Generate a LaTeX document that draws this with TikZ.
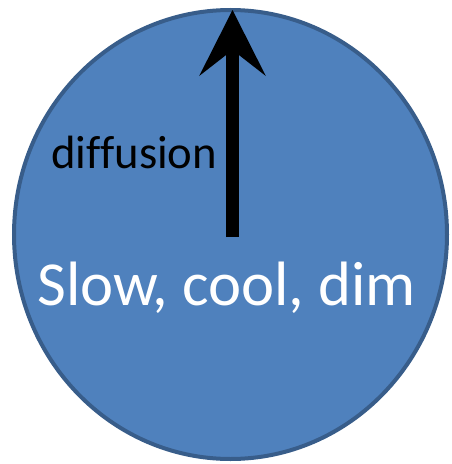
\documentclass[tikz,border=0pt]{standalone}
\usepackage{fontspec}
\setmainfont[Ligatures=NoCommon]{Carlito}
\usetikzlibrary{arrows.meta}
\definecolor{sunfill}{HTML}{4F81BD}
\definecolor{sunedge}{HTML}{385D8A}
\begin{document}
\begin{tikzpicture}[x=0.75pt,y=-0.75pt]
  \useasboundingbox (0,0) rectangle (451,464);
  \fill[sunfill,draw=sunedge,line width=3pt] (230.5,234.5) ellipse (216.5 and 224.5);
  \coordinate (base) at (232.5,237);
  \coordinate (tip) at (232.5,10);
  \draw[line width=9.75pt,
    -{Stealth[length=49.5pt,width=50pt,inset=19.5pt,line width=0pt]}] (base) -- (tip);
  \node[anchor=base west,inner sep=0pt,font=\fontsize{35}{40}\selectfont] (label)
    at (51,168) {diffusion};
  \node[anchor=base west,inner sep=0pt,text=white,font=\fontsize{47}{50}\selectfont]
    (state) at (37,305) {Slow, cool, dim};
\end{tikzpicture}
\end{document}
